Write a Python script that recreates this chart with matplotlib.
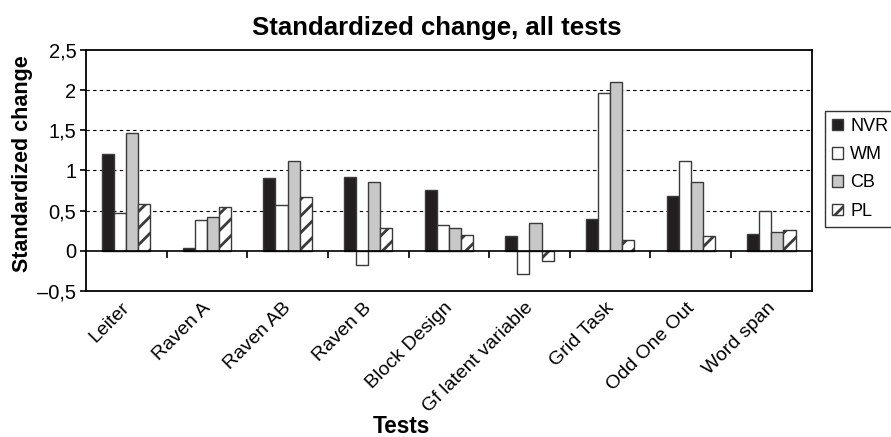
import matplotlib
matplotlib.use("Agg")
import matplotlib.pyplot as plt
import numpy as np
from matplotlib.ticker import FuncFormatter
from matplotlib.transforms import ScaledTranslation

plt.rcParams['font.family'] = ['Liberation Sans', 'DejaVu Sans']
plt.rcParams['hatch.linewidth'] = 2.0

categories = ["Leiter", "Raven A", "Raven AB", "Raven B", "Block Design",
              "Gf latent variable", "Grid Task", "Odd One Out", "Word span"]
series = ["NVR", "WM", "CB", "PL"]
nvr = [1.20, 0.03, 0.90, 0.92, 0.755, 0.18, 0.39, 0.68, 0.21]
wm = [0.47, 0.385, 0.57, -0.18, 0.32, -0.29, 1.96, 1.12, 0.50]
cb = [1.47, 0.42, 1.12, 0.85, 0.29, 0.34, 2.10, 0.85, 0.24]
pl = [0.58, 0.55, 0.675, 0.29, 0.20, -0.13, 0.13, 0.18, 0.26]
yticks = [-0.5, 0, 0.5, 1, 1.5, 2, 2.5]

values = [nvr, wm, cb, pl]
faces = ["#231f20", "white", "#c8c8c8", "white"]
hatches = [None, None, None, "//"]

fig = plt.figure(figsize=(8.91, 4.37), dpi=100)
ax = fig.add_axes([0.0965, 0.334, 0.8145, 0.552])

x = np.arange(len(categories))
bw = 0.15
for i, (vals, fc, h, name) in enumerate(zip(values, faces, hatches, series)):
    ax.bar(x + (i - 1.5) * bw, vals, width=bw, color=fc, edgecolor="#3a3a3a",
           linewidth=1.0, hatch=h, label=name, zorder=3)

ax.set_xlim(-0.5, len(categories) - 0.5)
ax.set_ylim(-0.5, 2.5)
ax.set_yticks(yticks)
ax.yaxis.set_major_formatter(FuncFormatter(
    lambda v, p: ("\u2013" if v < 0 else "") + ("%g" % abs(v)).replace(".", ",")))
for yv in yticks:
    if 0 < yv < 2.5:
        ax.axhline(yv, color="black", linestyle=(0, (3, 3)), linewidth=0.8, zorder=1)
ax.axhline(0, color="black", linewidth=1.2, zorder=4)
bounds = np.arange(len(categories) + 1) - 0.5
ax.vlines(bounds[1:-1], -0.085, 0, color="black", linewidth=1.2, zorder=4)

ax.set_xticks(x)
ax.set_xticklabels(categories, rotation=45, ha="right", rotation_mode="anchor", fontsize=14)
ax.tick_params(axis="x", length=0, pad=6)
shift = ScaledTranslation(-5 / 100, 0, fig.dpi_scale_trans)
for lab in ax.get_xticklabels():
    lab.set_transform(lab.get_transform() + shift)
ax.tick_params(axis="y", direction="out", length=4, width=1.2, labelsize=14.5, pad=3)
for s in ax.spines.values():
    s.set_linewidth(1.3)

ax.set_title("Standardized change, all tests", fontsize=18.5, fontweight="bold",
             pad=11, x=0.484)
ax.set_ylabel("Standardized change", fontsize=15.5, fontweight="bold")
ax.yaxis.set_label_coords(-0.073, 0.53)
ax.set_xlabel("Tests", fontsize=16.3, fontweight="bold")
ax.xaxis.set_label_coords(0.435, -0.515)

leg = ax.legend(loc="upper left", bbox_to_anchor=(1.0185, 0.747), frameon=True,
                fancybox=False, edgecolor="black", fontsize=13, handlelength=0.6,
                handleheight=0.6, handletextpad=0.4, borderpad=0.4, labelspacing=0.62,
                borderaxespad=0)
leg.get_frame().set_linewidth(1.0)

fig.savefig("out.png", dpi=100)
